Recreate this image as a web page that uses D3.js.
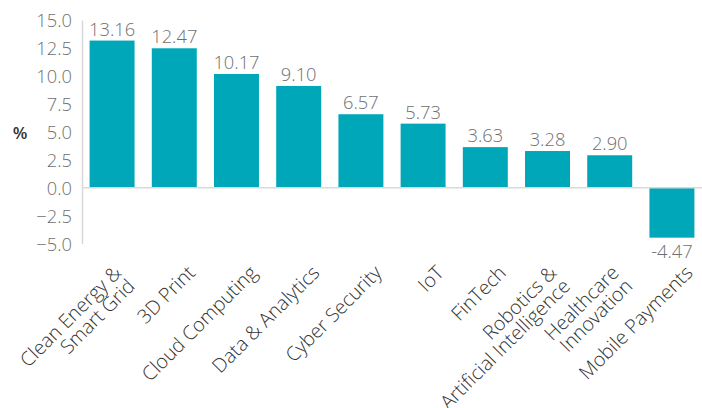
<!DOCTYPE html>
<html><head><meta charset="utf-8">
<script src="https://cdn.jsdelivr.net/npm/d3@7"></script>
<style>body{margin:0;background:#fff}svg{display:block}</style>
</head><body><svg id="c" width="702" height="408"></svg>
<script>
const categories = [["Clean Energy &","Smart Grid"],["3D Print"],["Cloud Computing"],["Data & Analytics"],["Cyber Security"],["IoT"],["FinTech"],["Robotics &","Artificial Intelligence"],["Healthcare","Innovation"],["Mobile Payments"]];
const values = [13.16, 12.47, 10.17, 9.10, 6.57, 5.73, 3.63, 3.28, 2.90, -4.47];
const yTicks = [15, 12.5, 10, 7.5, 5, 2.5, 0, -2.5, -5];
const yLabel = "%";

const svg = d3.select("#c");
const font = "'Open Sans', sans-serif";
const fs = 18.3, catFs = 19.6, lh = 19;
const x = d3.scaleBand().domain(d3.range(values.length)).range([82, 702]).paddingInner(0.277).paddingOuter(0.122);
const y = d3.scaleLinear().domain([-5, 15]).range([243.6, 20]);

// y axis
const ya = svg.append("g").attr("transform", "translate(82,0)")
  .call(d3.axisLeft(y).tickValues(yTicks).tickSize(0).tickPadding(10).tickFormat(d3.format(".1f")));
ya.select(".domain").attr("stroke", "#d9d9d9").attr("stroke-width", 1.5);
ya.selectAll("text").attr("font-family", font).attr("font-size", fs).attr("font-weight", 300).attr("fill", "#6f6f6f").attr("dy", "0.35em");

svg.append("text").attr("x", 20).attr("y", 134).attr("text-anchor", "middle").attr("dominant-baseline", "middle")
  .attr("font-family", font).attr("font-size", 17).attr("font-weight", 600).attr("fill", "#333").text(yLabel);

// bars
svg.selectAll("rect.bar").data(values).join("rect").attr("class", "bar")
  .attr("x", (d, i) => x(i)).attr("width", x.bandwidth())
  .attr("y", d => y(Math.max(0, d))).attr("height", d => Math.abs(y(d) - y(0)))
  .attr("fill", "#00a7b8");

// zero line
svg.append("line").attr("x1", 82).attr("x2", 702).attr("y1", y(0)).attr("y2", y(0))
  .attr("stroke", "#d9d9d9").attr("stroke-width", 1.5);

// value labels
svg.selectAll("text.val").data(values).join("text").attr("class", "val")
  .attr("x", (d, i) => x(i) + x.bandwidth() / 2)
  .attr("y", d => d >= 0 ? y(d) - 5 : y(d) + 20)
  .attr("text-anchor", "middle").attr("font-family", font).attr("font-size", fs).attr("font-weight", 300).attr("fill", "#6f6f6f")
  .text(d => d.toFixed(2));

// category labels
const cg = svg.selectAll("text.cat").data(categories).join("text").attr("class", "cat")
  .attr("transform", (d, i) => `translate(${x(i) + x.bandwidth() / 2 + 22 - (d.length - 1) * 11.5},274) rotate(-45)`)
  .attr("text-anchor", "end").attr("font-family", font).attr("font-size", catFs).attr("font-weight", 300).attr("fill", "#333");
cg.selectAll("tspan").data(d => d.map((t, j) => ({t, off: j * lh}))).join("tspan")
  .attr("x", 0).attr("y", d => d.off).text(d => d.t);
</script></body></html>
